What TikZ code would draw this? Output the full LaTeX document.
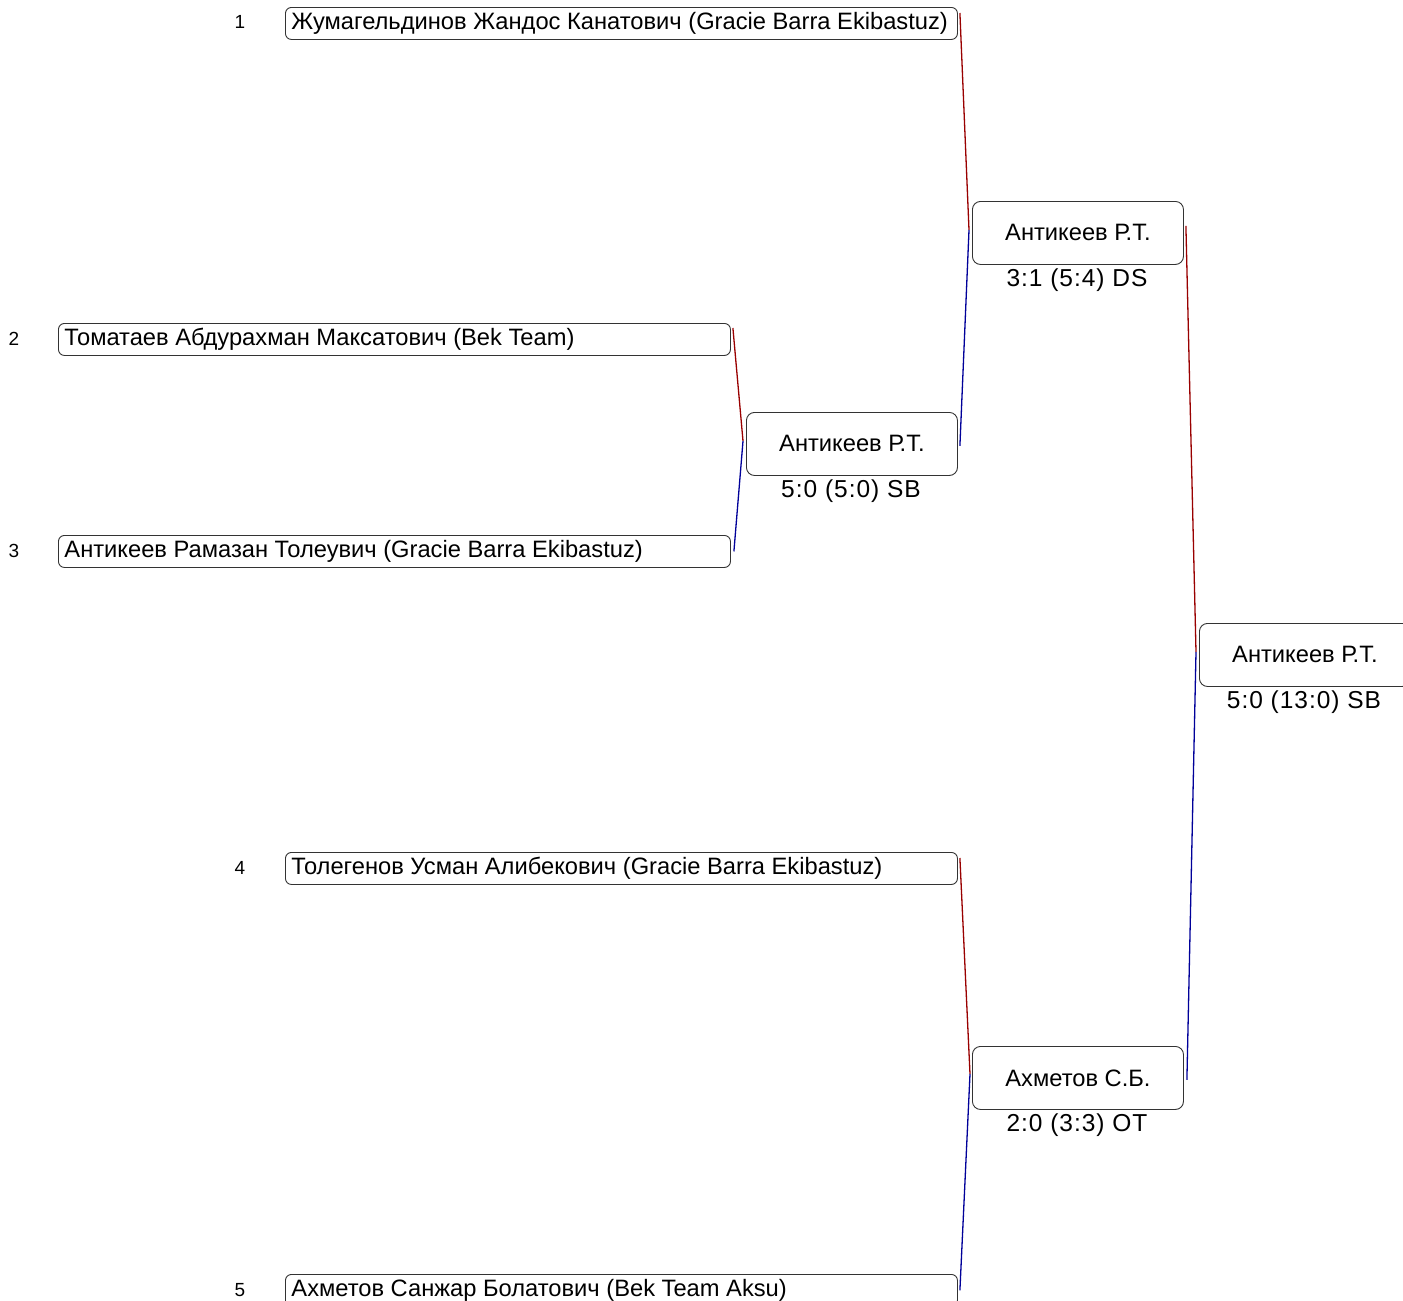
\documentclass[tikz,border=0pt]{standalone}
\usepackage{fontspec}
\setmainfont{Liberation Sans}
\usetikzlibrary{calc}
\definecolor{winred}{HTML}{990000}
\definecolor{losblue}{HTML}{000099}
\definecolor{boxgray}{HTML}{333333}
\newcommand\enttxt[1]{\makebox[660pt][l]{#1}}
\begin{document}
\begin{tikzpicture}[x=1pt,y=-1pt,
  entry/.style={draw=boxgray, line width=0.9pt, rounded corners=6pt, anchor=north west,
    inner xsep=6pt, inner ysep=0pt, minimum height=32pt,
    font=\fontsize{23.7}{26}\selectfont},
  match/.style={draw=boxgray, line width=0.9pt, rounded corners=8pt, anchor=north west,
    minimum width=211pt, minimum height=63pt, inner sep=0pt, font=\fontsize{23.7}{26}\selectfont},
  score/.style={font=\fontsize{24.5}{27}\selectfont\addfontfeature{LetterSpace=4}, inner sep=0pt},
  seed/.style={font=\fontsize{19}{22}\selectfont, inner sep=0pt},
  winline/.style={draw=winred, line width=1.3pt},
  losline/.style={draw=losblue, line width=1.3pt}]
\useasboundingbox (0,0) rectangle (1403,1301);

% seeds
\node[seed] (n1) at (240,22) {1};
\node[seed] (n2) at (14,339) {2};
\node[seed] (n3) at (14,551) {3};
\node[seed] (n4) at (240,868) {4};
\node[seed] (n5) at (240,1290) {5};

% entries
\node[entry] (e1) at (285,7) {\enttxt{Жумагельдинов Жандос Канатович (Gracie Barra Ekibastuz)}};
\node[entry] (e2) at (58,323) {\enttxt{Томатаев Абдурахман Максатович (Bek Team)}};
\node[entry] (e3) at (58,535) {\enttxt{Антикеев Рамазан Толеувич (Gracie Barra Ekibastuz)}};
\node[entry] (e4) at (285,852) {\enttxt{Толегенов Усман Алибекович (Gracie Barra Ekibastuz)}};
\node[entry] (e5) at (285,1274) {\enttxt{Ахметов Санжар Болатович (Bek Team Aksu)}};

% matches
\node[match] (m1) at (746,412) {Антикеев Р.Т.};
\node[score] (s1) at (851,491) {5:0 (5:0) SB};
\node[match] (m2) at (972,201) {Антикеев Р.Т.};
\node[score] (s2) at (1077,280) {3:1 (5:4) DS};
\node[match] (m3) at (972,1046) {Ахметов С.Б.};
\node[score] (s3) at (1077,1125) {2:0 (3:3) OT};
\node[match] (m4) at (1199,623) {Антикеев Р.Т.};
\node[score] (s4) at (1304,702) {5:0 (13:0) SB};

% junctions
\coordinate (j1) at (743,441);
\coordinate (j2) at (969,230);
\coordinate (j3) at (970,1074);
\coordinate (j4) at (1196,652);

\draw[winline] ($(e2.north east)+(2,5)$) -- (j1);
\draw[losline] (j1) -- ($(e3.east)+(3,0)$);
\draw[winline] ($(e1.north east)+(2,6)$) -- (j2);
\draw[losline] (j2) -- ($(m1.east)+(2,2)$);
\draw[winline] ($(e4.north east)+(2,6)$) -- (j3);
\draw[losline] (j3) -- ($(e5.east)+(2,0)$);
\draw[winline] ($(m2.east)+(2,-7)$) -- (j4);
\draw[losline] (j4) -- ($(m3.east)+(3,2)$);
\end{tikzpicture}
\end{document}
